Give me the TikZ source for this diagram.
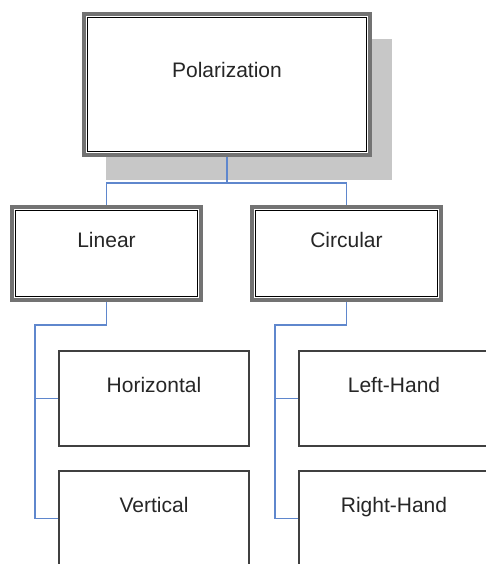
\documentclass[tikz,border=0pt]{standalone}
\usepackage{fontspec}
\setmainfont{Liberation Sans}
\usetikzlibrary{shadows}
\definecolor{linkblue}{RGB}{95,135,205}
\begin{document}
\begin{tikzpicture}[x=1pt,y=-1pt, line join=miter, font=\fontsize{21}{25}\selectfont,
    box/.style={rectangle, draw=black!75, line width=2pt, fill=white, text=black!85,
        minimum width=190pt, minimum height=95pt, text height=15pt, text depth=28pt, inner sep=2pt},
    dbox/.style={box, draw=black!55, line width=4pt, minimum width=189pt, minimum height=93pt,
        path picture={\draw[black, line width=1.2pt]
            ([shift={(3.6pt,-3.6pt)}]path picture bounding box.north west) rectangle
            ([shift={(-3.6pt,3.6pt)}]path picture bounding box.south east);}},
    link/.style={draw=linkblue, line width=1.8pt}]
    \useasboundingbox (0,0) rectangle (486,564);
    %top
    \node[dbox, minimum width=286pt, minimum height=141pt,
        drop shadow={shadow xshift=22pt, shadow yshift=-25pt, fill=black!22, opacity=1}] (pol) at (227,84.5) {Polarization};
    %second row
    \node[dbox] (lin) at (106.5,253.5) {Linear};
    \node[dbox] (cir) at (346.5,253.5) {Circular};
    %leaves
    \node[box] (hor) at (154,398.5) {Horizontal};
    \node[box] (ver) at (154,518.5) {Vertical};
    \node[box] (lh) at (394,398.5) {Left-Hand};
    \node[box] (rh) at (394,518.5) {Right-Hand};
    %links
    \draw[link] (pol.south) -- ++(0,26) -| (lin.north);
    \draw[link] (pol.south) -- ++(0,26) -| (cir.north);
    \coordinate (lbus) at (35,325);
    \coordinate (rbus) at (275,325);
    \draw[link] (lin.south) |- (lbus) |- (hor.west);
    \draw[link] (lbus) |- (ver.west);
    \draw[link] (cir.south) |- (rbus) |- (lh.west);
    \draw[link] (rbus) |- (rh.west);
\end{tikzpicture}
\end{document}
